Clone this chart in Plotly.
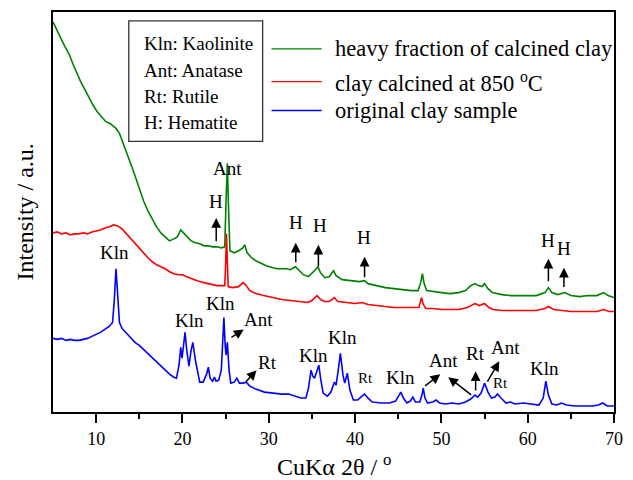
import plotly.graph_objects as go

# ---------------- data (arbitrary intensity units) -------------
green_x = [5.0, 5.3, 5.6, 6.0, 6.4, 6.9, 7.3, 7.8, 8.2, 8.7, 9.2, 9.6, 10.1, 10.6, 11.1, 11.6,
           12.0, 12.3, 12.7, 13.2, 13.7, 14.2, 14.6, 15.0, 15.5, 16.0, 16.5, 17.0, 17.5, 18.0,
           18.5, 19.0, 19.4, 19.8, 20.1, 20.5, 21.0, 21.5, 22.0, 22.5, 23.0, 23.5, 24.0, 24.5,
           24.9, 25.05, 25.2, 25.35, 25.5, 26.0, 26.5, 27.0, 27.2, 27.5, 28.0, 28.5, 29.0, 29.7,
           30.5, 31.0, 32.0, 32.5, 33.1, 33.5, 34.0, 34.6, 35.0, 35.4, 35.7, 36.0, 36.5, 37.0,
           37.5, 37.8, 38.5, 39.5, 40.5, 41.1, 41.5, 42.5, 43.5, 44.5, 45.5, 46.5, 47.3, 47.6,
           47.8, 48.0, 48.3, 49.0, 50.0, 51.0, 52.0, 52.8, 53.4, 53.9, 54.3, 54.7, 55.0, 55.4,
           55.9, 57.0, 58.0, 59.0, 60.0, 61.0, 62.0, 62.4, 62.8, 63.5, 64.3, 65.0, 66.0, 67.0,
           68.0, 68.8, 69.3, 70.0]
green_y = [392, 387, 382, 374, 367, 359, 350, 340, 332, 324, 315, 309, 302, 297, 292, 290,
           287, 285, 280, 269, 257, 245, 235, 224, 212, 202, 194, 186, 180, 176,
           172, 174, 176, 183, 180, 176, 172, 170, 169, 167, 167, 166, 166, 165,
           166, 212, 250, 202, 162, 160, 162, 165, 168, 160, 155, 152, 150, 147,
           145, 144, 144, 143, 146, 142, 138, 136, 139, 143, 146, 140, 135, 136,
           142, 137, 133, 132, 131, 132, 129, 127, 125, 124, 123, 122, 122, 130,
           139, 129, 122, 121, 120, 119, 120, 122, 127, 129, 127, 126, 129, 124,
           120, 118, 117, 117, 117, 117, 120, 125, 120, 118, 120, 117, 116, 117,
           117, 120, 117, 115]

red_x = [5.0, 5.5, 6.0, 6.5, 7.0, 7.5, 8.0, 8.5, 9.0, 9.5, 10.0, 10.5, 11.0, 11.5, 12.0, 12.5,
         13.0, 13.4, 14.0, 14.6, 15.0, 15.5, 16.0, 16.5, 17.0, 17.5, 18.0, 18.5, 19.0, 19.5,
         20.0, 20.5, 21.0, 21.7, 22.5, 23.0, 23.5, 24.0, 24.5, 24.9, 25.0, 25.1, 25.2, 25.3,
         25.8, 26.5, 27.0, 27.3, 27.8, 28.5, 29.4, 30.5, 31.5, 32.5, 33.5, 34.5, 35.0, 35.6,
         36.0, 36.5, 37.0, 37.6, 38.0, 39.0, 40.0, 40.8, 41.5, 42.5, 43.5, 44.5, 45.5, 46.5,
         47.4, 47.7, 47.9, 48.2, 49.0, 50.0, 51.0, 52.0, 53.0, 53.5, 53.9, 54.4, 55.0, 55.5,
         56.0, 57.0, 58.0, 59.0, 60.0, 61.0, 62.0, 62.4, 63.0, 64.0, 65.0, 66.0, 67.0, 68.0,
         68.8, 69.4, 70.0]
red_y = [180, 181, 179, 180, 178, 179, 179, 180, 179, 181, 182, 183, 185, 186, 188, 187,
         184, 180, 175, 169, 164, 159, 155, 151, 148, 146, 144, 141, 139, 138,
         138, 136, 134, 132, 130, 129, 128, 127, 127, 127, 147, 179, 152, 126,
         125, 126, 130, 128, 122, 119, 117, 115, 113, 112, 111, 110, 112, 117,
         113, 111, 111, 115, 111, 110, 109, 110, 108, 107, 106, 105, 105, 105,
         105, 115, 108, 104, 104, 103, 103, 103, 105, 107, 109, 107, 109, 105,
         103, 102, 102, 102, 102, 102, 104, 106, 103, 102, 101, 101, 101, 101,
         103, 101, 101]

blue_x = [5.0, 5.5, 6.0, 6.5, 7.0, 7.5, 8.0, 8.5, 9.0, 9.5, 10.0, 10.5, 11.0, 11.5, 11.9, 12.1,
          12.3, 12.5, 12.7, 13.0, 13.5, 14.1, 14.5, 15.0, 15.5, 16.0, 16.5, 17.0, 17.5, 18.0,
          18.5, 19.0, 19.3, 19.6, 19.8, 19.95, 20.1, 20.3, 20.5, 20.75, 21.0, 21.2, 21.5, 21.8,
          22.0, 22.4, 22.8, 23.0, 23.2, 23.5, 23.7, 23.9, 24.2, 24.5, 24.8, 24.95, 25.05, 25.2,
          25.4, 25.6, 26.0, 26.3, 26.6, 27.0, 27.4, 27.8, 28.5, 29.5, 30.5, 31.5, 32.3, 33.0,
          33.7, 34.3, 34.6, 34.9, 35.1, 35.3, 35.55, 35.8, 36.0, 36.3, 36.8, 37.2, 37.6, 37.8,
          38.05, 38.3, 38.6, 38.8, 39.1, 39.4, 39.8, 40.3, 40.8, 41.1, 41.5, 42.0, 43.0, 44.0,
          44.7, 45.0, 45.3, 45.6, 46.0, 46.4, 46.7, 47.0, 47.5, 47.75, 47.9, 48.1, 48.4, 49.0,
          49.4, 49.8, 50.5, 51.2, 52.0, 52.8, 53.4, 53.9, 54.2, 54.6, 55.0, 55.4, 55.8, 56.2,
          56.5, 56.9, 57.5, 58.0, 58.5, 59.5, 60.5, 61.3, 61.8, 62.1, 62.4, 62.8, 63.4, 63.9,
          64.5, 65.5, 66.5, 67.5, 68.2, 68.7, 69.2, 70.0]
blue_y = [74, 73, 74, 72, 73, 72, 72, 73, 74, 76, 78, 80, 83, 86, 90, 112,
          144, 117, 90, 84, 79, 74, 70, 67, 63, 59, 54, 50, 46, 42,
          38, 35, 34, 47, 65, 54, 67, 80, 62, 46, 62, 70, 52, 36,
          30, 30, 38, 45, 34, 31, 35, 31, 32, 42, 95, 67, 57, 70,
          42, 29, 30, 34, 29, 29, 30, 26, 23, 20, 19, 18, 18, 16,
          14, 14, 24, 42, 36, 34, 40, 47, 34, 19, 16, 20, 30, 27,
          42, 59, 37, 29, 39, 22, 12, 12, 16, 18, 14, 10, 9, 9,
          11, 15, 20, 14, 9, 11, 15, 10, 10, 17, 24, 14, 9, 10,
          12, 9, 8, 9, 8, 10, 13, 17, 15, 19, 29, 20, 14, 15,
          18, 14, 9, 10, 8, 9, 8, 7, 14, 31, 17, 8, 7, 9,
          7, 6, 6, 6, 7, 9, 6, 6]

series_names = ["heavy fraction of calcined clay",
                "clay calcined at 850 <sup>o</sup>C",
                "original clay sample"]
series_colors = ["#008000", "#ff0000", "#0000ff"]
key_lines = ["Kln: Kaolinite", "Ant: Anatase", "Rt: Rutile", "H: Hematite"]
x_ticks = [10, 20, 30, 40, 50, 60, 70]

FONT = "'Liberation Serif', 'Times New Roman', Times, 'DejaVu Serif', serif"

# plot area in pixels: x 53..623, y 10..412
L, R, T, B = 53, 623, 10, 412
def px(p):
    return (p - L) / (R - L)
def py(p):
    return (B - p) / (B - T)

fig = go.Figure()
for xs, ys, name, col in [(green_x, green_y, series_names[0], series_colors[0]),
                          (red_x, red_y, series_names[1], series_colors[1]),
                          (blue_x, blue_y, series_names[2], series_colors[2])]:
    fig.add_trace(go.Scatter(x=xs, y=ys, mode="lines", name=name,
                             line=dict(color=col, width=1.6), showlegend=False))

annotations = []
shapes = []

# key box
shapes.append(dict(type="rect", xref="paper", yref="paper",
                   x0=px(130), x1=px(266), y0=py(140), y1=py(19),
                   line=dict(color="#333333", width=1.3)))
for txt, yy in zip(key_lines, [42, 69, 95, 121]):
    annotations.append(dict(text=txt, xref="paper", yref="paper", x=px(143), y=py(yy),
                            xanchor="left", yanchor="middle", showarrow=False,
                            font=dict(family=FONT, size=19, color="black")))

# series legend
for name, col, yy in zip(series_names, series_colors, [47, 80, 109]):
    shapes.append(dict(type="line", xref="paper", yref="paper",
                       x0=px(275), x1=px(326), y0=py(yy), y1=py(yy),
                       line=dict(color=col, width=1.3)))
    annotations.append(dict(text=name, xref="paper", yref="paper", x=px(337), y=py(yy),
                            xanchor="left", yanchor="middle", showarrow=False,
                            font=dict(family=FONT, size=22.5, color="black")))

# phase labels (x in degrees, y in intensity units)
labels = [
    ("Kln", 12.17, 160, 19), ("Ant", 25.16, 245, 19),
    ("H", 23.9, 212, 19), ("H", 33.1, 190, 19), ("H", 35.9, 187, 19),
    ("H", 41.0, 175, 19), ("H", 62.4, 172, 19), ("H", 64.2, 164, 19),
    ("Kln", 20.83, 92, 19), ("Kln", 24.36, 109, 19), ("Ant", 28.8, 93, 19),
    ("Rt", 29.83, 50, 19), ("Kln", 35.18, 57, 19), ("Kln", 38.6, 75, 19),
    ("Rt", 41.2, 34, 15), ("Kln", 45.3, 35, 19), ("Ant", 50.2, 52, 19),
    ("Rt", 53.97, 59, 19), ("Ant", 57.4, 65, 19), ("Rt", 56.8, 29, 15),
    ("Kln", 61.95, 44, 19),
]
for txt, x, y, s in labels:
    annotations.append(dict(text=txt, x=x, y=y, xref="x", yref="y", showarrow=False,
                            xanchor="center", yanchor="middle",
                            font=dict(family=FONT, size=s, color="black")))

# arrows: (head_x, head_y, tail_x, tail_y)
arrows = [
    (23.91, 195, 23.91, 170), (33.13, 170, 33.13, 149), (35.75, 168, 35.75, 145),
    (41.1, 156, 41.1, 134), (62.4, 154, 62.4, 130), (64.2, 145, 64.2, 124),
    (27.1, 83, 25.5, 74), (28.58, 42, 27.2, 29), (49.87, 38, 47.94, 25),
    (50.79, 35, 53.63, 16), (53.97, 41, 53.97, 20), (56.71, 51, 55.23, 29),
]
for hx, hy, tx, ty in arrows:
    annotations.append(dict(text="", x=hx, y=hy, ax=tx, ay=ty, xref="x", yref="y",
                            axref="x", ayref="y", showarrow=True, arrowhead=2,
                            arrowsize=1.3, arrowwidth=1.5, arrowcolor="black",
                            standoff=0, startstandoff=0))

# axis titles
annotations.append(dict(text="CuKα 2θ / <sup>o</sup>", xref="paper", yref="paper",
                        x=px(339), y=py(465), xanchor="center", yanchor="middle",
                        showarrow=False, font=dict(family=FONT, size=24, color="black")))
annotations.append(dict(text="Intensity / a.u.", xref="paper", yref="paper",
                        x=px(25), y=py(211), xanchor="center", yanchor="middle",
                        textangle=-90, showarrow=False,
                        font=dict(family=FONT, size=24, color="black")))

fig.update_layout(
    width=633, height=480,
    margin=dict(l=L, r=633 - R, t=T, b=480 - B),
    paper_bgcolor="white", plot_bgcolor="white",
    font=dict(family=FONT, size=18, color="black"),
    shapes=shapes, annotations=annotations,
    xaxis=dict(range=[5, 70], tickvals=x_ticks, ticks="outside", ticklen=9,
               tickwidth=1.5, tickcolor="black", showline=True, linewidth=2,
               linecolor="black", mirror=True, showgrid=False, zeroline=False,
               tickfont=dict(family=FONT, size=18, color="black"),
               minor=dict(tickvals=[15, 25, 35, 45, 55, 65], ticks="outside",
                          ticklen=5, tickwidth=1.5, tickcolor="black", showgrid=False)),
    yaxis=dict(range=[0, 402], showticklabels=False, ticks="", showline=True,
               linewidth=2, linecolor="black", mirror=True, showgrid=False,
               zeroline=False),
)

fig.write_html("out.html")
